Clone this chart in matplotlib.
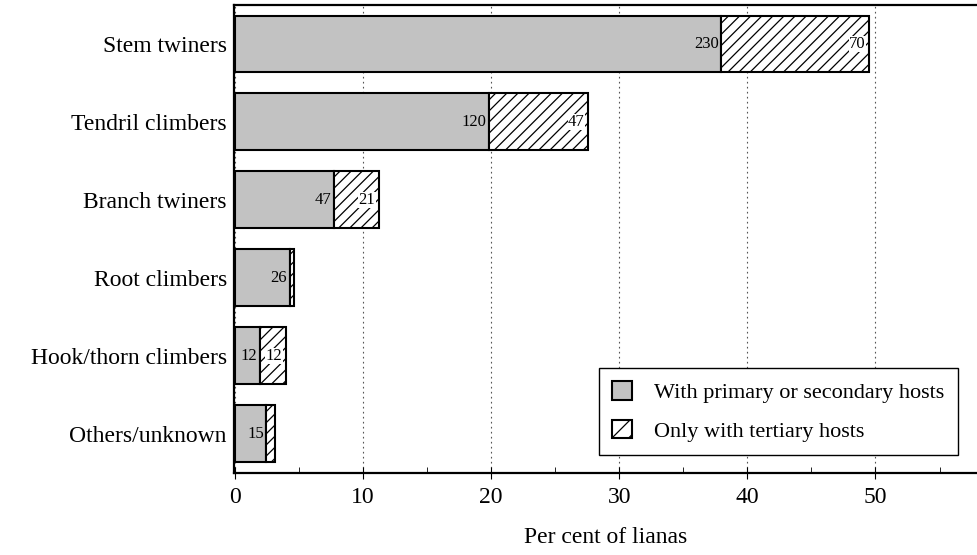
import matplotlib.pyplot as plt
from matplotlib.patches import Patch
from matplotlib.ticker import MultipleLocator

# liana climbing types and number of species per host class
categories = ["Stem twiners", "Tendril climbers", "Branch twiners",
              "Root climbers", "Hook/thorn climbers", "Others/unknown"]
primary_secondary = [230, 120, 47, 26, 12, 15]
tertiary_only = [70, 47, 21, 2, 12, 4]
primary_labels = ["230", "120", "47", "26", "12", "15"]
tertiary_labels = ["70", "47", "21", "", "12", ""]

total = sum(primary_secondary) + sum(tertiary_only)
pct_primary = [100.0 * n / total for n in primary_secondary]
pct_tertiary = [100.0 * n / total for n in tertiary_only]

plt.rcParams['font.family'] = ['Liberation Serif', 'DejaVu Serif']
plt.rcParams['hatch.linewidth'] = 0.9

fig = plt.figure(figsize=(9.78, 5.55), dpi=100)
ax = fig.add_axes([0.239, 0.148, 0.761, 0.843])

ypos = list(range(len(categories)))
h = 0.73
ax.barh(ypos, pct_primary, height=h, color="#c2c2c2", edgecolor="black",
        linewidth=1.5, zorder=3)
ax.barh(ypos, pct_tertiary, left=pct_primary, height=h, color="white",
        edgecolor="black", hatch="///", linewidth=1.5, zorder=3)

for y, p, t, lp, lt in zip(ypos, pct_primary, pct_tertiary,
                           primary_labels, tertiary_labels):
    if lp:
        ax.text(p - 0.2, y, lp, ha="right", va="center", fontsize=12,
                zorder=4)
    if lt:
        ax.text(p + t - 0.25, y, lt, ha="right", va="center", fontsize=12,
                zorder=4,
                bbox=dict(facecolor="white", edgecolor="none", pad=0.2))

ax.set_ylim(5.5, -0.5)
ax.set_xlim(-0.08, 58)
ax.set_yticks(ypos)
ax.set_yticklabels(categories, fontsize=17)
ax.tick_params(axis="y", length=0, pad=5)

ax.xaxis.set_major_locator(MultipleLocator(10))
ax.xaxis.set_minor_locator(MultipleLocator(5))
ax.tick_params(axis="x", which="major", direction="inout", length=8,
               labelsize=17, pad=6)
ax.tick_params(axis="x", which="minor", direction="in", length=4)
ax.set_xlabel("Per cent of lianas", fontsize=17, labelpad=14)

ax.grid(axis="x", linestyle=(0, (1.5, 3)), color="#555555", linewidth=0.8,
        zorder=0)
ax.spines["right"].set_visible(False)
for side in ("left", "bottom", "top"):
    ax.spines[side].set_linewidth(1.6)

handles = [Patch(facecolor="#c2c2c2", edgecolor="black", linewidth=1.5),
           Patch(facecolor="white", edgecolor="black", hatch="//",
                 linewidth=1.5)]
leg = ax.legend(handles, ["With primary or secondary hosts",
                          "Only with tertiary hosts"],
                loc="lower right", bbox_to_anchor=(0.973, 0.038),
                fontsize=16, handlelength=0.9, handleheight=0.9,
                handletextpad=1.0, labelspacing=0.75, borderpad=0.6,
                borderaxespad=0.0, fancybox=False, framealpha=1,
                edgecolor="black")
leg.get_frame().set_linewidth(1.0)

fig.savefig("out.png", dpi=100)
